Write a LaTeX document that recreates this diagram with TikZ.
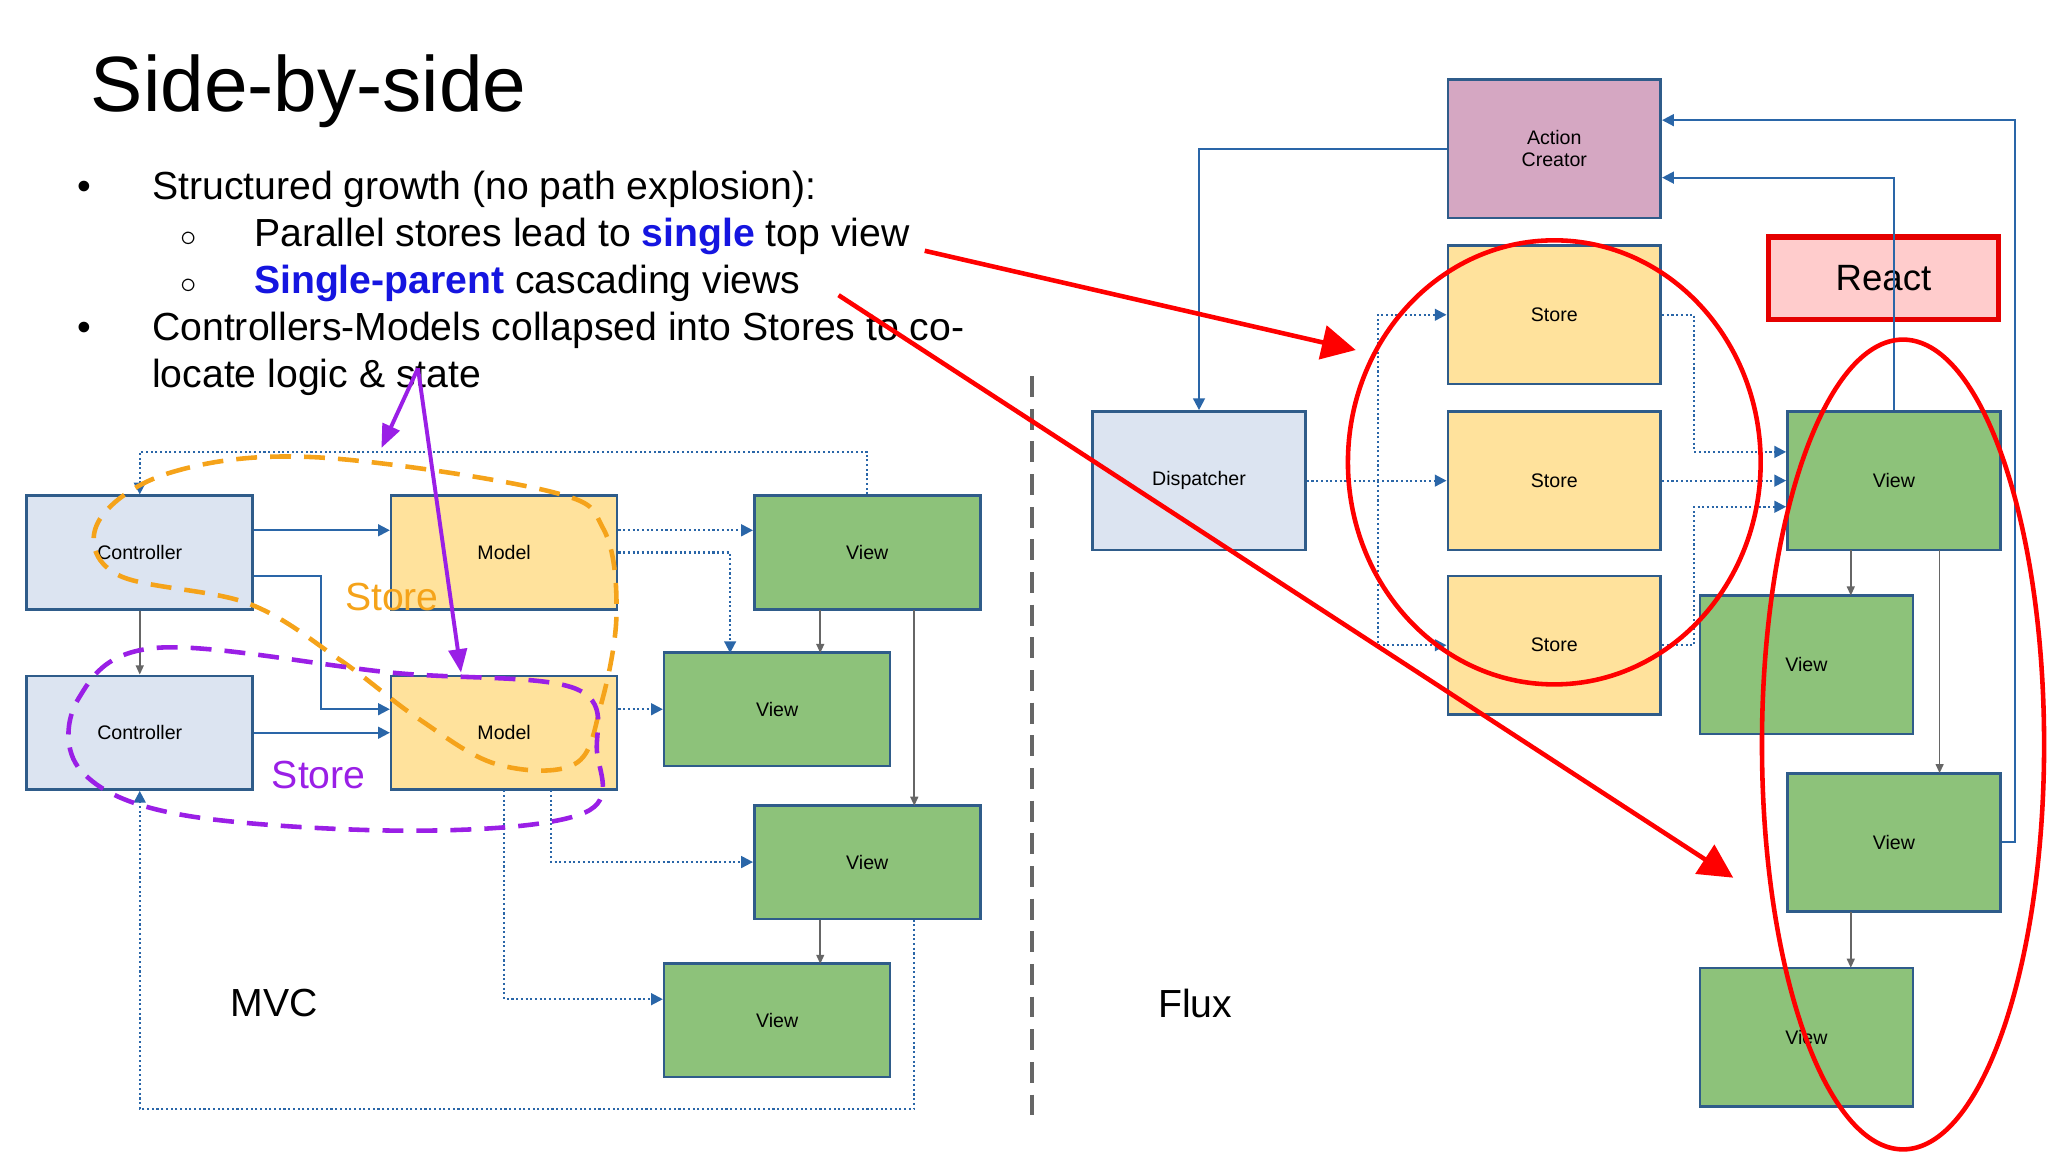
\documentclass[tikz,border=0pt]{standalone}
\usepackage{fontspec}
\setmainfont{Liberation Sans}
\usetikzlibrary{arrows.meta}
\definecolor{bd}{HTML}{2F5C8A}
\definecolor{ctl}{HTML}{DCE4F1}
\definecolor{mdl}{HTML}{FFE29C}
\definecolor{vw}{HTML}{8DC27A}
\definecolor{ac}{HTML}{D5A7C2}
\definecolor{ln}{HTML}{2A66A8}
\definecolor{orng}{HTML}{F5A31A}
\definecolor{purp}{HTML}{9A1FE6}
\definecolor{lbl}{HTML}{1515E0}
\begin{document}
\begin{tikzpicture}[x=1pt,y=-1pt,
 box/.style={draw=bd,line width=2pt,minimum width=173pt,minimum height=87pt,font=\fontsize{15}{15}\selectfont},
 rbox/.style={box,minimum width=163pt,minimum height=106pt},
 sol/.style={ln,line width=1.6pt,-{Triangle[length=9pt,width=9pt]}},
 dot/.style={ln,line width=1.6pt,dotted,-{Triangle[length=9pt,width=9pt]}},
 gry/.style={gray!80!black,line width=1.3pt,-{Triangle[length=7pt,width=6pt]}},
 txt/.style={anchor=base west,font=\fontsize{30}{30}\selectfont}]
\useasboundingbox (0,0) rectangle (1568,882);
\node[anchor=base west,font=\fontsize{60}{60}\selectfont] (title) at (66,85) {Side-by-side};
\node[txt] (b1) at (56,153) {\textbullet};
\node[txt] (t1) at (113,153) {Structured growth (no path explosion):};
\node[txt] (b2) at (135,189) {$\circ$};
\node[txt] (t2) at (191,189) {Parallel stores lead to \textcolor{lbl}{\textbf{single}} top view};
\node[txt] (b3) at (135,225) {$\circ$};
\node[txt] (t3) at (191,225) {\textcolor{lbl}{\textbf{Single-parent}} cascading views};
\node[txt] (b4) at (56,261) {\textbullet};
\node[txt] (t4) at (113,261) {Controllers-Models collapsed into Stores to co-};
\node[txt] (t5) at (113,297) {locate logic \& state};
% left
\node[box,fill=ctl] (c1) at (107,423) {Controller};
\node[box,fill=mdl] (m1) at (386,423) {Model};
\node[box,fill=vw] (v1) at (664,423) {View};
\node[box,fill=ctl] (c2) at (107,561) {Controller};
\node[box,fill=mdl] (m2) at (386,561) {Model};
\node[box,fill=vw] (v2) at (595,543) {View};
\node[box,fill=vw] (v3) at (664,660) {View};
\node[box,fill=vw] (v4) at (595,781) {View};
\draw[sol] (c1.east|-0,406) -- (m1.west|-0,406);
\draw[sol] (c1.east|-0,441) -- (246,441) -- (246,543) -- (m2.west|-0,543);
\draw[sol] (c2) -- (m2);
\draw[gry] (c1) -- (c2);
\draw[dot] (v1.north) -- (664,346) -- (107,346) -- (c1.north);
\draw[dot] (m1.east|-0,406) -- (v1.west|-0,406);
\draw[dot] (m1.east|-0,423) -- (559,423) -- (559,500);
\draw[gry] (628,467) -- (628,500);
\draw[gry] (700,467) -- (700,617);
\draw[dot] (m2.east|-0,543) -- (v2.west|-0,543);
\draw[dot] (422,605) -- (422,660) -- (v3.west);
\draw[dot] (386,605) -- (386,765) -- (v4.west|-0,765);
\draw[gry] (628,704) -- (628,738);
\draw[dot] (700,704) -- (700,849) -- (107,849) -- (c2.south);
\node[font=\fontsize{30}{30}\selectfont] (mvc) at (210,768) {MVC};
\node[font=\fontsize{30}{30}\selectfont] (flux) at (915,768) {Flux};
\draw[gray!80!black,line width=3.5pt,dash pattern=on 16pt off 9pt] (790,288) -- (790,855);
% right
\node[rbox,fill=ac,align=center,font=\fontsize{15}{17}\selectfont] (ac) at (1190,114) {Action\\Creator};
\node[rbox,fill=mdl] (s1) at (1190,241) {Store};
\node[rbox,fill=mdl] (s2) at (1190,368) {Store};
\node[rbox,fill=mdl] (s3) at (1190,494) {Store};
\node[rbox,fill=ctl] (d) at (918,368) {Dispatcher};
\node[rbox,fill=vw] (r1) at (1450,368) {View};
\node[rbox,fill=vw] (r2) at (1383,509) {View};
\node[rbox,fill=vw] (r3) at (1450,645) {View};
\node[rbox,fill=vw] (r4) at (1383,794) {View};
\node[draw=red!90!black,line width=4pt,fill=red!20,minimum width=176pt,minimum height=63pt,font=\fontsize{28}{28}\selectfont] (react) at (1442,213) {React};
\draw[sol] (ac.west) -- (918,114) -- (d.north);
\draw[dot] (d) -- (s2);
\draw[dot] (1055,368) -- (1055,241) -- (s1.west);
\draw[dot] (1055,368) -- (1055,494) -- (s3.west);
\draw[dot] (s1.east) -- (1297,241) -- (1297,346) -- (r1.west|-0,346);
\draw[dot] (s2) -- (r1);
\draw[dot] (s3.east) -- (1297,494) -- (1297,388) -- (r1.west|-0,388);
\draw[sol] (r1.north) -- (1450,136) -- (ac.east|-0,136);
\draw[sol] (r3.east) -- (1543,645) -- (1543,92) -- (ac.east|-0,92);
\draw[gry] (1417,421) -- (1417,456);
\draw[gry] (1485,421) -- (1485,592);
\draw[gry] (1417,698) -- (1417,741);
% annotations
\draw[red,line width=3.5pt] (1190,354) ellipse [x radius=158,y radius=170];
\draw[red,line width=3.5pt] (1457,570) ellipse [x radius=108,y radius=310];
\draw[red,line width=3.5pt,-{Triangle[length=26pt,width=26pt]}] (708,192) -- (1038,268);
\draw[red,line width=3.5pt,-{Triangle[length=26pt,width=26pt]}] (642,226) -- (1327,672);
\draw[purp,line width=3pt,-{Triangle[length=18pt,width=14pt]}] (320,282) -- (292,343);
\draw[purp,line width=3pt,-{Triangle[length=18pt,width=14pt]}] (320,282) -- (353,515);
\draw[orng,line width=3.5pt,dash pattern=on 16pt off 10pt] plot[smooth cycle,tension=0.6] coordinates {(75,400) (130,362) (240,350) (420,376) (462,405) (472,470) (460,540) (440,585) (380,585) (320,550) (260,505) (190,462) (90,440)};
\draw[purp,line width=3.5pt,dash pattern=on 16pt off 10pt] plot[smooth cycle,tension=0.6] coordinates {(60,535) (120,496) (300,515) (440,527) (457,575) (448,622) (320,636) (140,624) (62,590)};
\node[text=orng,font=\fontsize{30}{30}\selectfont] (st1) at (300,457) {Store};
\node[text=purp,font=\fontsize{30}{30}\selectfont] (st2) at (244,593) {Store};
\end{tikzpicture}
\end{document}
